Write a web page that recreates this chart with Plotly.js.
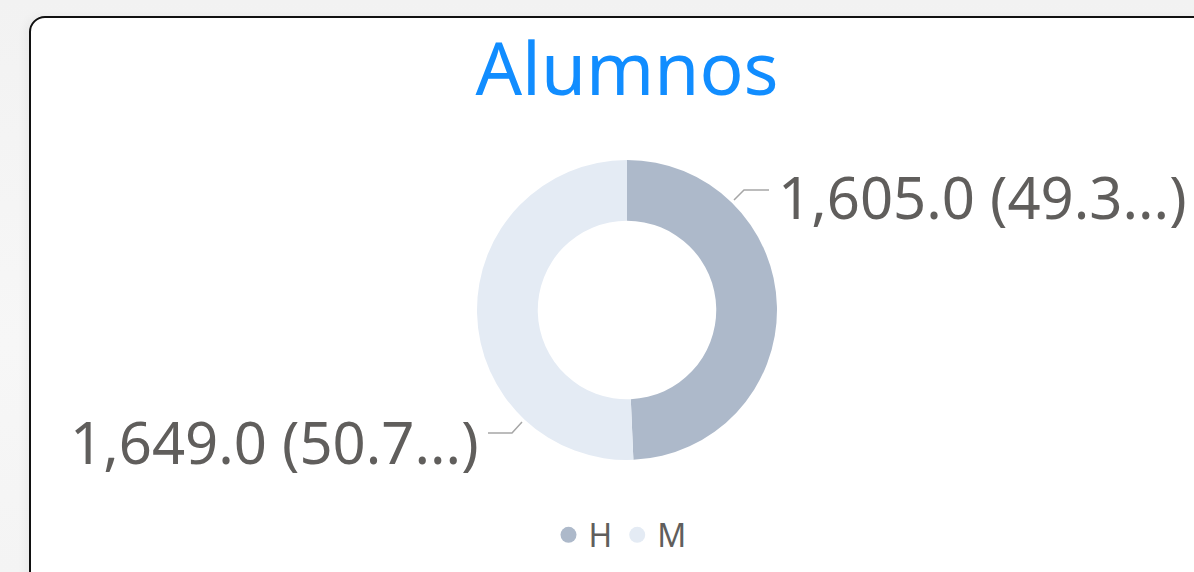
<!DOCTYPE html>
<html>
<head>
<meta charset="utf-8">
<script src="https://cdn.plot.ly/plotly-3.0.1.min.js"></script>
<style>
  html, body { margin:0; padding:0; width:1194px; height:572px; overflow:hidden;
    background: linear-gradient(180deg, #f2f2f2 0%, #f7f7f7 60%, #f4f4f4 100%); }
  #card { position:absolute; left:29px; top:16px; width:1200px; height:600px;
    background:#ffffff; border:2px solid #111; border-radius:16px; box-sizing:border-box;
    box-shadow: -4px 0 10px rgba(0,0,0,0.04); }
  #chart { position:absolute; left:0; top:0; width:1194px; height:572px; }
</style>
</head>
<body>
<div id="card"></div>
<div id="chart"></div>
<script>
// ---- data ----
const categories = ["H", "M"];
const values = [1605, 1649];
const percentLabels = ["49.3...", "50.7..."];
const colors = ["#ADB9CA", "#E4EBF4"];
const chartTitle = "Alumnos";

const W = 1194, H = 572;
const px = x => x / W;
const py = y => 1 - y / H;

function fmt(v) {
  return v.toLocaleString("en-US", {minimumFractionDigits: 1, maximumFractionDigits: 1});
}

const pie = {
  type: "pie",
  labels: categories,
  values: values,
  marker: {colors: colors, line: {width: 0}},
  hole: 0.595,
  sort: false,
  direction: "clockwise",
  rotation: 0,
  textinfo: "none",
  hoverinfo: "label+value+percent",
  showlegend: false,
  domain: {x: [px(477), px(777)], y: [py(460), py(160)]}
};

const legendTraces = categories.map((c, i) => ({
  type: "scatter", mode: "markers", x: [null], y: [null], name: c,
  marker: {symbol: "circle", size: 20, color: colors[i]}, showlegend: true, hoverinfo: "skip"
}));

const labelFont = {family: "Noto Sans, Open Sans, sans-serif", size: 58, color: "#605E5C"};

const annotations = [
  {xref: "paper", yref: "paper", x: px(776), y: py(196), xanchor: "left", yanchor: "middle",
   text: fmt(values[0]) + " (" + percentLabels[0] + ")", showarrow: false, font: labelFont},
  {xref: "paper", yref: "paper", x: px(481), y: py(441), xanchor: "right", yanchor: "middle",
   text: fmt(values[1]) + " (" + percentLabels[1] + ")", showarrow: false, font: labelFont}
];

const lineStyle = {color: "#A6A6A6", width: 1.5};
const shapes = [
  {type: "path", xref: "paper", yref: "paper", line: lineStyle,
   path: `M ${px(734)} ${py(200)} L ${px(744)} ${py(190)} L ${px(769)} ${py(190)}`},
  {type: "path", xref: "paper", yref: "paper", line: lineStyle,
   path: `M ${px(522)} ${py(422)} L ${px(512)} ${py(433)} L ${px(488)} ${py(433)}`}
];

const layout = {
  width: W, height: H,
  margin: {l: 0, r: 0, t: 0, b: 0},
  paper_bgcolor: "rgba(0,0,0,0)",
  plot_bgcolor: "rgba(0,0,0,0)",
  title: {text: chartTitle, x: px(627), xanchor: "center", y: py(69), yanchor: "middle",
    font: {family: "Noto Sans, Open Sans, sans-serif", size: 73, color: "#118DFF"}},
  xaxis: {visible: false, range: [0, 1]},
  yaxis: {visible: false, range: [0, 1]},
  showlegend: true,
  legend: {orientation: "h", x: px(620), xanchor: "center", y: py(535), yanchor: "middle",
    font: {family: "Noto Sans, Open Sans, sans-serif", size: 32, color: "#605E5C"},
    itemwidth: 30, itemclick: false, bgcolor: "rgba(0,0,0,0)", tracegroupgap: 0},
  annotations: annotations,
  shapes: shapes
};

Plotly.newPlot("chart", [pie, ...legendTraces], layout, {displayModeBar: false, staticPlot: true});
</script>
</body>
</html>
